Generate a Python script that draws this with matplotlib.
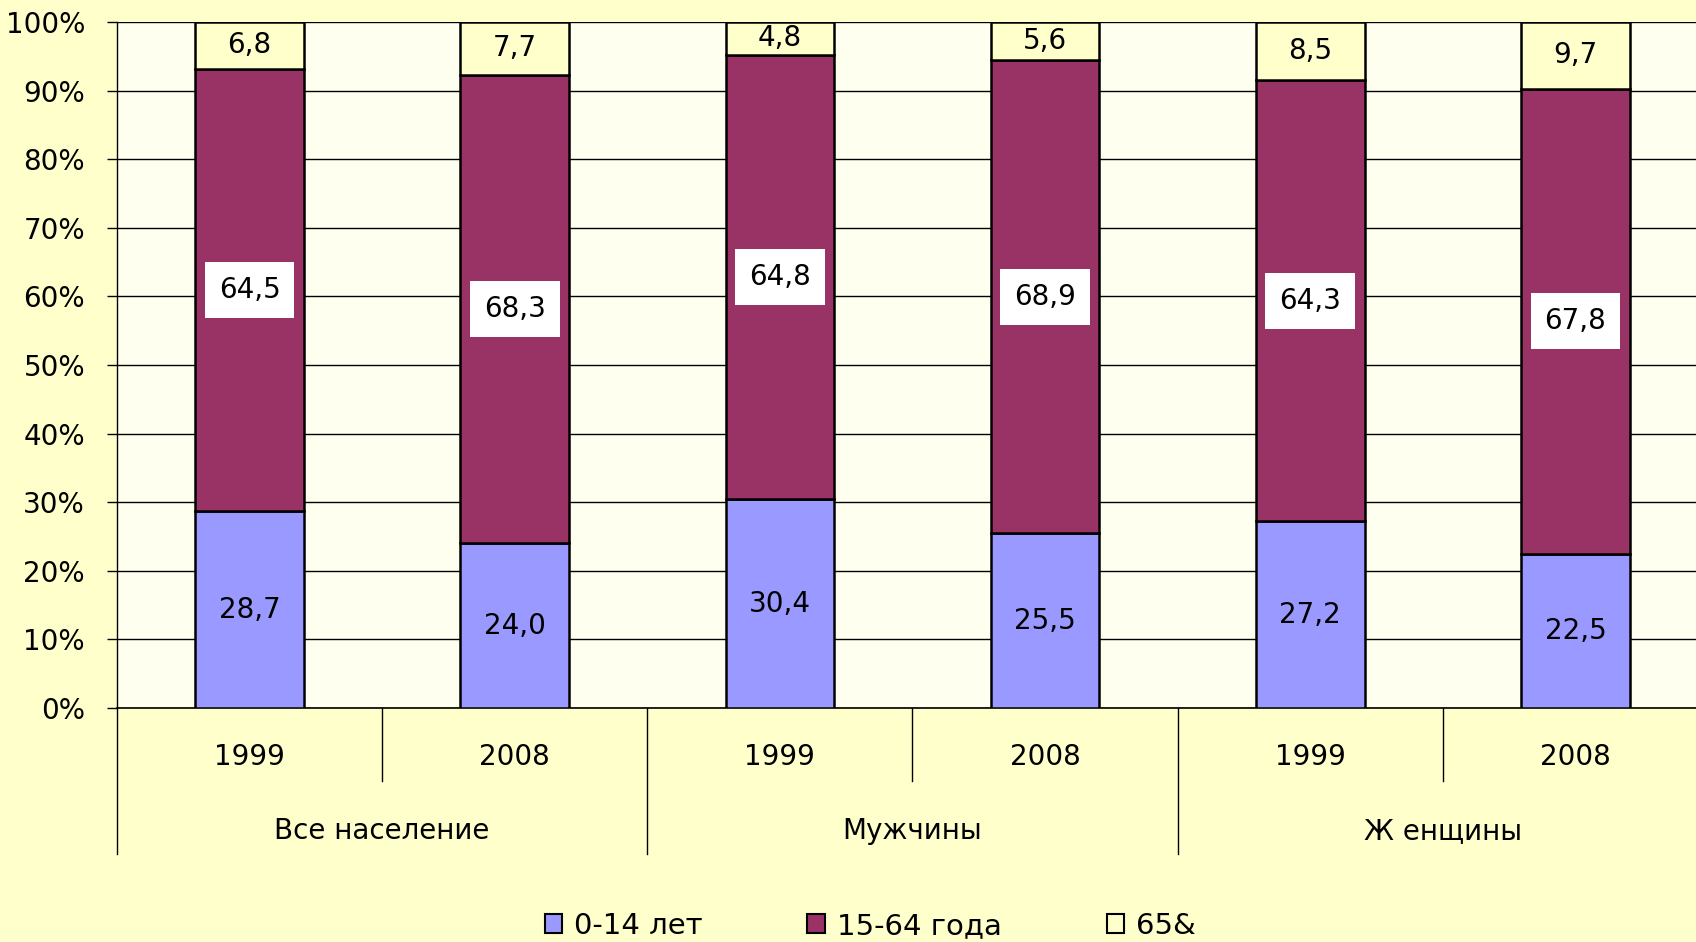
import matplotlib
matplotlib.use("Agg")
import matplotlib.pyplot as plt
import matplotlib.transforms as mtransforms
from matplotlib.patches import Patch

years = ["1999", "2008", "1999", "2008", "1999", "2008"]
groups = ["Все население", "Мужчины", "Ж енщины"]
series_names = ["0-14 лет", "15-64 года", "65&"]
young = [28.7, 24.0, 30.4, 25.5, 27.2, 22.5]
working = [64.5, 68.3, 64.8, 68.9, 64.3, 67.8]
old = [6.8, 7.7, 4.8, 5.6, 8.5, 9.7]

colors = ["#9999FF", "#993366", "#FFFFCC"]
plt.rcParams['font.family'] = ['DejaVu Sans']

fig = plt.figure(figsize=(16.96, 9.42), dpi=100, facecolor="#FFFFCC")
ax = fig.add_axes([117/1696, 234/942, (1708-117)/1696, 686/942])
ax.set_facecolor("#FFFFF0")

x = list(range(len(years)))
w = 0.41
ax.bar(x, young, w, color=colors[0], edgecolor="black", linewidth=1.8, zorder=3)
ax.bar(x, working, w, bottom=young, color=colors[1], edgecolor="black", linewidth=1.8, zorder=3)
bottom3 = [a + b for a, b in zip(young, working)]
ax.bar(x, old, w, bottom=bottom3, color=colors[2], edgecolor="black", linewidth=1.8, zorder=3)

def fmt(v):
    return f"{v:.1f}".replace(".", ",")

fs = 20
for i in x:
    ax.text(i, young[i] / 2, fmt(young[i]), ha="center", va="center", fontsize=fs, zorder=5)
    ax.text(i, young[i] + working[i] / 2, fmt(working[i]), ha="center", va="center", fontsize=fs, zorder=5,
            bbox=dict(boxstyle="square,pad=0.5", facecolor="white", edgecolor="none"))
    ax.text(i, bottom3[i] + old[i] / 2, fmt(old[i]), ha="center", va="center", fontsize=fs, zorder=5)

ax.set_xlim(-0.5, 5.5)
ax.set_ylim(0, 100)
ax.set_yticks(range(0, 101, 10))
ax.set_yticklabels([f"{v}%" for v in range(0, 101, 10)], fontsize=fs)
ax.tick_params(axis="y", length=7, width=1, pad=16, colors="black")
ax.set_xticks([])
ax.yaxis.grid(True, color="black", linewidth=1)
ax.set_axisbelow(True)
for s in ["top", "right"]:
    ax.spines[s].set_visible(False)
ax.spines["left"].set_linewidth(1)
ax.spines["bottom"].set_linewidth(1.2)

trans = mtransforms.blended_transform_factory(ax.transData, ax.transAxes)
for k in [0.5, 2.5, 4.5]:
    ax.plot([k, k], [0, -0.1064], color="black", lw=1, transform=trans, clip_on=False)
for k in [-0.5, 1.5, 3.5]:
    ax.plot([k, k], [0, -0.2128], color="black", lw=1, transform=trans, clip_on=False)
for i in x:
    ax.text(i, -0.0714, years[i], ha="center", va="center", fontsize=fs, transform=trans)
for g, name in enumerate(groups):
    ax.text(2 * g + 0.5, -0.179, name, ha="center", va="center", fontsize=fs, transform=trans)

handles = [Patch(facecolor=c, edgecolor="black", linewidth=1.5) for c in colors]
fig.legend(handles, series_names, loc="center", bbox_to_anchor=(0.513, 16/942), ncol=3,
           frameon=False, fontsize=21, handlelength=0.6, handleheight=0.6, handletextpad=0.4,
           columnspacing=3.6)

fig.savefig("out.png", dpi=100, facecolor=fig.get_facecolor())
